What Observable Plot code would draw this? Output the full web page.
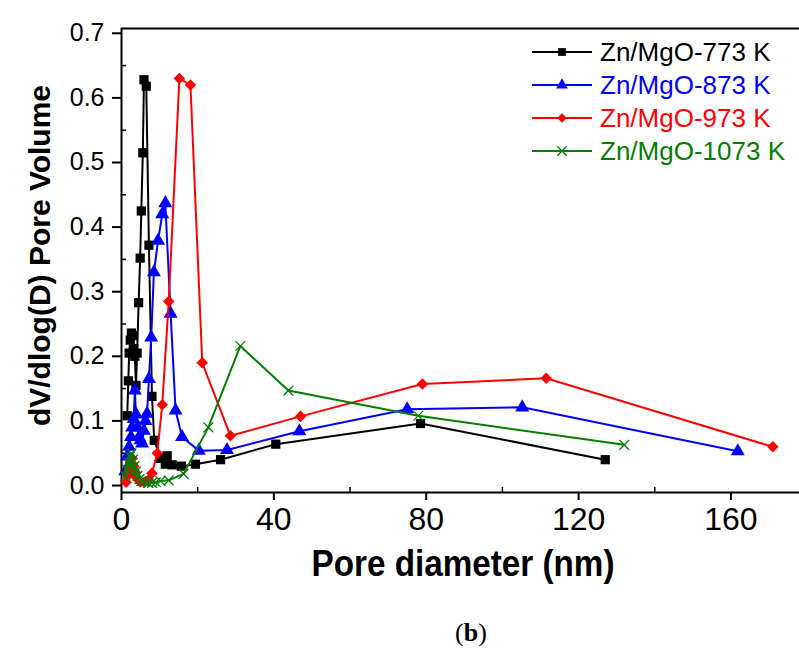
<!DOCTYPE html>
<html>
<head>
<meta charset="utf-8">
<script src="https://cdn.jsdelivr.net/npm/d3@7"></script>
<script src="https://cdn.jsdelivr.net/npm/@observablehq/plot@0.6"></script>
<style>
  html, body { margin: 0; padding: 0; background: #fff; }
  #chart { width: 799px; height: 650px; overflow: hidden; }
</style>
</head>
<body>
<div id="chart"></div>
<script>
// ---- data ----
const seriesNames = ["Zn/MgO-773 K", "Zn/MgO-873 K", "Zn/MgO-973 K", "Zn/MgO-1073 K"];
const seriesColors = ["#000000", "#0000ff", "#ff0000", "#008000"];
const seriesSymbols = ["square", "triangle", "diamond2", "times"];

const x773 = [1.5, 1.8, 2.0, 2.3, 2.6, 2.9, 3.2, 3.5, 3.8, 4.1, 4.5, 4.9, 5.2, 5.6, 5.9, 6.5, 7.2, 8.0, 8.6, 10.2, 11.5, 12.0, 13.3, 15.7, 19.4, 26.0, 40.5, 78.5, 127.0];
const y773 = [0.108, 0.162, 0.205, 0.225, 0.236, 0.232, 0.212, 0.2, 0.155, 0.205, 0.283, 0.352, 0.425, 0.515, 0.628, 0.618, 0.372, 0.138, 0.07, 0.042, 0.033, 0.046, 0.032, 0.03, 0.033, 0.04, 0.064, 0.096, 0.04];

const x873 = [1.0, 1.5, 2.0, 2.5, 2.8, 3.2, 3.5, 3.8, 4.2, 4.6, 5.0, 5.4, 5.85, 6.3, 6.7, 7.2, 7.8, 8.5, 9.6, 10.7, 11.5, 12.9, 14.2, 15.9, 20.3, 27.7, 46.7, 75.0, 105.2, 161.8];
const y873 = [0.022, 0.045, 0.06, 0.075, 0.09, 0.103, 0.147, 0.11, 0.09, 0.075, 0.07, 0.065, 0.085, 0.1, 0.111, 0.165, 0.229, 0.33, 0.379, 0.42, 0.437, 0.266, 0.116, 0.075, 0.054, 0.055, 0.084, 0.118, 0.121, 0.053];

const x973 = [1.2, 1.6, 2.0, 2.4, 2.8, 3.2, 3.6, 4.0, 4.5, 5.0, 6.0, 7.0, 8.0, 9.4, 10.7, 12.4, 15.2, 18.1, 21.2, 28.6, 47.0, 79.0, 111.5, 171.0];
const y973 = [0.005, 0.015, 0.025, 0.035, 0.042, 0.03, 0.02, 0.012, 0.008, 0.006, 0.005, 0.008, 0.019, 0.05, 0.125, 0.285, 0.63, 0.62, 0.19, 0.077, 0.107, 0.157, 0.166, 0.06];

const x1073 = [1.0, 1.4, 1.8, 2.2, 2.6, 3.0, 3.4, 3.8, 4.2, 4.7, 5.2, 6.0, 7.0, 8.0, 9.0, 10.2, 12.4, 16.3, 22.8, 31.2, 43.8, 77.9, 132.0];
const y1073 = [0.015, 0.025, 0.035, 0.045, 0.05, 0.04, 0.03, 0.022, 0.015, 0.01, 0.007, 0.005, 0.004, 0.004, 0.005, 0.007, 0.008, 0.018, 0.09, 0.216, 0.147, 0.108, 0.063];

const xMajorTicks = [0, 40, 80, 120, 160];
const xMinorTicks = [20, 60, 100, 140];
const yMajorTicks = [0, 0.1, 0.2, 0.3, 0.4, 0.5, 0.6, 0.7];
const yMinorTicks = [0.05, 0.15, 0.25, 0.35, 0.45, 0.55, 0.65];

const xTitle = "Pore diameter (nm)";
const yTitle = "dV/dlog(D) Pore Volume";

// ---- build table ----
const xs = [x773, x873, x973, x1073];
const ys = [y773, y873, y973, y1073];
const rows = [];
seriesNames.forEach((name, i) => {
  xs[i].forEach((xv, j) => rows.push({series: name, idx: i, x: xv, y: ys[i][j]}));
});
const bySeries = seriesNames.map(n => rows.filter(r => r.series === n));

const xDomain = [0, 178];
const yDomain = [-0.0108, 0.7074];

const sansFont = "'Liberation Sans', Arial, sans-serif";

const marks = [
  // frame lines
  Plot.ruleY([yDomain[1]], {stroke: "black", strokeWidth: 2}),
  Plot.ruleY([yDomain[0]], {stroke: "black", strokeWidth: 2}),
  Plot.ruleX([xDomain[0]], {stroke: "black", strokeWidth: 2}),
  // axes
  Plot.axisY(yMajorTicks, {tickSize: 9, tickPadding: 8, tickFormat: d3.format(".1f"), fontSize: 25, fontFamily: sansFont, strokeWidth: 2, label: null}),
  Plot.axisY(yMinorTicks, {tickSize: -5, text: null, strokeWidth: 1.5, label: null}),
  Plot.axisX(xMajorTicks, {tickSize: 8, tickPadding: 7, fontSize: 32, fontFamily: sansFont, strokeWidth: 2, label: null, ariaLabel: "x-major"}),
  Plot.axisX(xMinorTicks, {tickSize: -5, text: null, strokeWidth: 1.5, label: null}),
];

bySeries.forEach((data, i) => {
  marks.push(Plot.line(data, {x: "x", y: "y", stroke: seriesColors[i], strokeWidth: 2}));
  if (seriesSymbols[i] === "times") {
    marks.push(Plot.dot(data, {x: "x", y: "y", symbol: "times", r: 4.5, stroke: seriesColors[i], strokeWidth: 1.3, fill: "none"}));
  } else {
    marks.push(Plot.dot(data, {x: "x", y: "y", symbol: seriesSymbols[i], r: seriesSymbols[i] === "square" ? 5.2 : 5.2, fill: seriesColors[i], stroke: "none"}));
  }
});

marks.push(Plot.text([yTitle], {frameAnchor: "left", dx: -81, dy: -5, rotate: -90, textAnchor: "middle", text: d => d, fontSize: 30, fontWeight: "bold", fontFamily: sansFont, fill: "black", lineAnchor: "middle"}));

const chart = Plot.plot({
  width: 799,
  height: 650,
  marginLeft: 121,
  marginRight: 0,
  marginTop: 28,
  marginBottom: 158,
  x: {domain: xDomain},
  y: {domain: yDomain},
  style: {background: "white", color: "black", overflow: "visible"},
  marks
});
document.getElementById("chart").appendChild(chart);

const svg = d3.select(chart);

// narrow-looking x tick labels (reference uses a condensed face)
svg.selectAll("g[aria-label='x-axis tick label'] text").each(function() {
  const t = d3.select(this);
  const s = t.text();
  t.attr("textLength", s.length * 15).attr("lengthAdjust", "spacingAndGlyphs");
});

// x title, condensed
svg.append("text").attr("x", 463).attr("y", 563).attr("dy", "0.36em")
  .attr("text-anchor", "middle").attr("font-family", sansFont).attr("font-weight", "bold")
  .attr("font-size", 37).attr("textLength", 303).attr("lengthAdjust", "spacingAndGlyphs")
  .attr("fill", "black").text(xTitle);

// ---- legend ----
const legend = svg.append("g").attr("font-family", sansFont).attr("font-size", 26).attr("text-anchor", "start");
const symMap = {square: d3.symbolSquare, triangle: d3.symbolTriangle, diamond2: d3.symbolDiamond2, times: d3.symbolTimes};
seriesNames.forEach((name, i) => {
  const cy = 52 + i * 33;
  const g = legend.append("g").attr("transform", `translate(0,${cy})`);
  g.append("line").attr("x1", 532).attr("x2", 592).attr("y1", 0).attr("y2", 0)
    .attr("stroke", seriesColors[i]).attr("stroke-width", 2);
  const size = seriesSymbols[i] === "times" ? 60 : 60;
  const p = g.append("path").attr("transform", "translate(562,0)")
    .attr("d", d3.symbol(symMap[seriesSymbols[i]], size)());
  if (seriesSymbols[i] === "times") p.attr("fill", "none").attr("stroke", seriesColors[i]).attr("stroke-width", 1.3);
  else p.attr("fill", seriesColors[i]);
  g.append("text").attr("x", 600).attr("y", 0).attr("dy", "0.36em").attr("text-anchor", "start")
    .attr("fill", seriesColors[i]).text(name);
});

// ---- panel label ----
const lab = svg.append("text").attr("x", 471).attr("y", 641).attr("text-anchor", "middle")
  .attr("font-family", "'Liberation Serif', 'Times New Roman', serif").attr("font-size", 26).attr("fill", "black");
lab.append("tspan").text("(");
lab.append("tspan").attr("font-weight", "bold").text("b");
lab.append("tspan").text(")");
</script>
</body>
</html>
